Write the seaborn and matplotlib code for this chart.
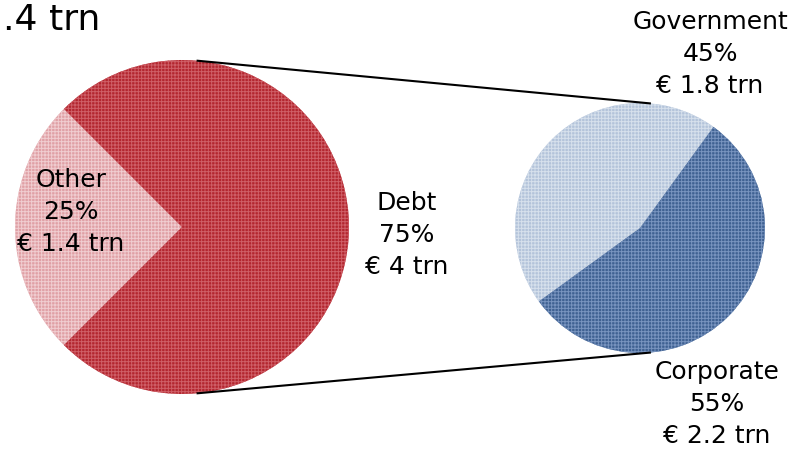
import matplotlib
matplotlib.use("Agg")
import matplotlib.pyplot as plt
import numpy as np
import seaborn as sns

# Breakdown of the total into debt and other, and of debt into issuers
outer_labels = ["Other", "Debt"]
outer_pct = [25, 75]
outer_trn = ["1.4", "4"]

debt_labels = ["Government", "Corporate"]
debt_pct = [45, 55]
debt_trn = ["1.8", "2.2"]

title_text = ".4 trn"

sns.set_theme(style="white")
plt.rcParams["font.family"] = ["DejaVu Sans"]
plt.rcParams["hatch.linewidth"] = 0.7

outer_face = ["#e0a0a5", "#b3262f"]
outer_hatch = ["#f0cdd0", "#cf5f67"]
debt_face = ["#b3c3da", "#3f6192"]
debt_hatch = ["#d6e0ec", "#7894bf"]

W, H = 798, 449
fig = plt.figure(figsize=(W / 100, H / 100), dpi=100)
ax = fig.add_axes([0, 0, 1, 1])
ax.set_xlim(0, W)
ax.set_ylim(0, H)
ax.set_aspect("equal")
ax.axis("off")

left_c, left_r = (182, 222), 167
right_c, right_r = (640, 221), 125

w1, _ = ax.pie(outer_pct, center=left_c, radius=left_r, startangle=135,
               counterclock=True, frame=True)
for w, fc, hc in zip(w1, outer_face, outer_hatch):
    w.set_facecolor(fc)
    w.set_edgecolor(hc)
    w.set_linewidth(0)
    w.set_hatch("+++++")

w2, _ = ax.pie(debt_pct, center=right_c, radius=right_r, startangle=54,
               counterclock=True, frame=True)
for w, fc, hc in zip(w2, debt_face, debt_hatch):
    w.set_facecolor(fc)
    w.set_edgecolor(hc)
    w.set_linewidth(0)
    w.set_hatch("+++++")

ax.set_xlim(0, W)
ax.set_ylim(0, H)
ax.axis("off")

# connector lines from the debt slice edge to the breakdown pie
for ang in (85, -85):
    a = np.deg2rad(ang)
    x0 = left_c[0] + left_r * np.cos(a)
    y0 = left_c[1] + left_r * np.sin(a)
    x1 = right_c[0] + right_r * np.cos(a)
    y1 = right_c[1] + right_r * np.sin(a)
    ax.plot([x0, x1], [y0, y1], color="black", lw=1.5, solid_capstyle="butt")

fs = 18
ls = 1.4
ax.text(71, H - 212, f"{outer_labels[0]}\n{outer_pct[0]}%\n€ {outer_trn[0]} trn",
        ha="center", va="center", fontsize=fs, linespacing=ls, color="black")
ax.text(407, H - 235, f"{outer_labels[1]}\n{outer_pct[1]}%\n€ {outer_trn[1]} trn",
        ha="center", va="center", fontsize=fs, linespacing=ls, color="black")
ax.text(710, H - 54, f"{debt_labels[0]}\n{debt_pct[0]}%\n€ {debt_trn[0]} trn",
        ha="center", va="center", fontsize=fs, linespacing=ls, color="black")
ax.text(717, H - 404, f"{debt_labels[1]}\n{debt_pct[1]}%\n€ {debt_trn[1]} trn",
        ha="center", va="center", fontsize=fs, linespacing=ls, color="black")

ax.text(3, H - 20, title_text, ha="left", va="center", fontsize=26, color="black")

fig.savefig("out.png", dpi=100)
